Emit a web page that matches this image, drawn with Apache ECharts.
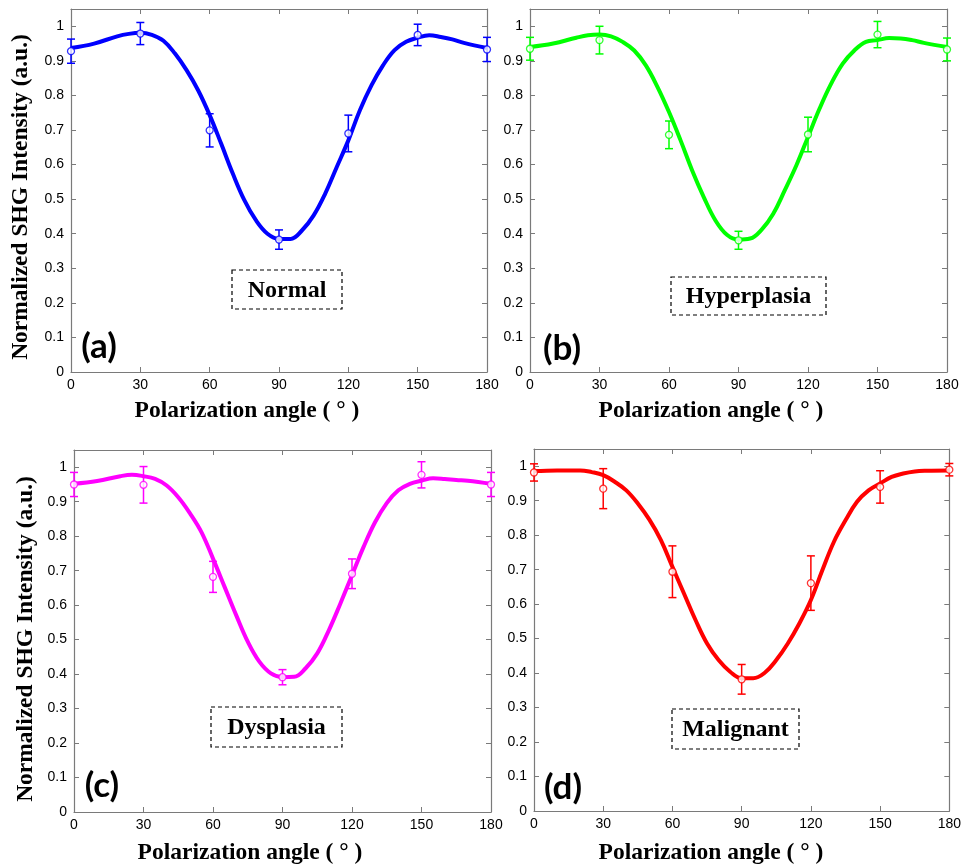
<!DOCTYPE html>
<html>
<head>
<meta charset="utf-8">
<script src="https://cdn.jsdelivr.net/npm/echarts@6/dist/echarts.min.js"></script>
<style>
  html, body { margin: 0; background: #fff; }
  #chart { width: 964px; height: 867px; }
</style>
</head>
<body>
<div id="chart"></div>
<script>
// measured points (mean +/- error bar) at each polarization angle
const angles = [0, 30, 60, 90, 120, 150, 180];

const normalMean = [0.928, 0.979, 0.699, 0.383, 0.690, 0.975, 0.933];
const normalErr = [0.035, 0.032, 0.048, 0.028, 0.053, 0.031, 0.035];
const hyperMean = [0.935, 0.960, 0.686, 0.381, 0.687, 0.976, 0.933];
const hyperErr = [0.033, 0.040, 0.040, 0.026, 0.050, 0.038, 0.033];
const dysMean = [0.950, 0.949, 0.682, 0.391, 0.691, 0.978, 0.950];
const dysErr = [0.035, 0.053, 0.045, 0.022, 0.043, 0.038, 0.035];
const malMean = [0.982, 0.935, 0.694, 0.382, 0.661, 0.940, 0.990];
const malErr = [0.025, 0.058, 0.075, 0.043, 0.079, 0.047, 0.018];

// fitted curves
const fitAngles = [0, 10, 20, 25, 30, 35, 40, 45, 50, 55, 60, 65, 70, 75, 80, 85, 90,
  95, 100, 105, 110, 115, 120, 125, 130, 135, 140, 145, 150, 155, 160, 165, 170, 180];
const normalFit = [0.937, 0.950, 0.971, 0.978, 0.981, 0.975, 0.958, 0.921, 0.873, 0.815, 0.743,
  0.660, 0.574, 0.497, 0.439, 0.400, 0.385, 0.385, 0.410, 0.453, 0.516, 0.593, 0.670, 0.757,
  0.829, 0.887, 0.931, 0.955, 0.967, 0.974, 0.969, 0.962, 0.952, 0.937];
const hyperFit = [0.940, 0.950, 0.967, 0.974, 0.976, 0.971, 0.955, 0.930, 0.887, 0.825, 0.752,
  0.670, 0.583, 0.506, 0.439, 0.397, 0.383, 0.386, 0.412, 0.458, 0.526, 0.598, 0.680, 0.762,
  0.834, 0.892, 0.930, 0.955, 0.960, 0.966, 0.965, 0.960, 0.952, 0.940];
const dysFit = [0.952, 0.960, 0.974, 0.978, 0.974, 0.966, 0.947, 0.913, 0.867, 0.812, 0.735,
  0.653, 0.571, 0.494, 0.436, 0.402, 0.391, 0.392, 0.417, 0.460, 0.527, 0.605, 0.687, 0.769,
  0.841, 0.896, 0.933, 0.952, 0.961, 0.968, 0.966, 0.963, 0.961, 0.952];
const malFit = [0.986, 0.988, 0.988, 0.983, 0.974, 0.955, 0.930, 0.892, 0.845, 0.786, 0.708,
  0.631, 0.554, 0.486, 0.438, 0.404, 0.385, 0.385, 0.401, 0.438, 0.486, 0.544, 0.612, 0.699,
  0.781, 0.843, 0.897, 0.930, 0.950, 0.969, 0.979, 0.985, 0.987, 0.988];

const xTicks = { min: 0, max: 180, interval: 30 };
const yTicks = { min: 0, max: 1.05, interval: 0.1 };

const panels = [
  { mean: normalMean, err: normalErr, fit: normalFit, color: '#0000ff', tag: 'Normal', letter: '(a)' },
  { mean: hyperMean, err: hyperErr, fit: hyperFit, color: '#00ff00', tag: 'Hyperplasia', letter: '(b)' },
  { mean: dysMean, err: dysErr, fit: dysFit, color: '#ff00ff', tag: 'Dysplasia', letter: '(c)' },
  { mean: malMean, err: malErr, fit: malFit, color: '#ff0000', tag: 'Malignant', letter: '(d)' }
];

// layout of the 2x2 figure
const grids = [
  { left: 71, top: 9, width: 416, height: 363 },
  { left: 530, top: 9, width: 417, height: 363 },
  { left: 74, top: 450, width: 417, height: 362 },
  { left: 534, top: 449, width: 416, height: 362 }
];
const boxes = [
  { x: 232, y: 270, w: 110, h: 39 },
  { x: 671, y: 277, w: 155, h: 38 },
  { x: 211, y: 707, w: 131, h: 40 },
  { x: 672, y: 709, w: 127, h: 40 }
];
const letterPos = [[99, 347], [562, 349], [102, 786], [563, 788]];

const AXIS = '#7a7a7a';
const TICKFONT = { color: '#000', fontFamily: 'Liberation Sans, Arial, sans-serif', fontSize: 14 };
const SERIF = 'Liberation Serif, Times New Roman, serif';

function axisCommon(showLabel) {
  return {
    axisLine: { show: true, onZero: false, lineStyle: { color: AXIS, width: 1.2 } },
    axisTick: { show: true, inside: true, length: 5, lineStyle: { color: AXIS } },
    splitLine: { show: false },
    axisLabel: showLabel ? Object.assign({ showMaxLabel: true }, TICKFONT) : { show: false }
  };
}

const xAxis = [], yAxis = [], series = [];
grids.forEach((g, i) => {
  xAxis.push(Object.assign({ type: 'value', gridIndex: i, position: 'bottom' }, xTicks, axisCommon(true),
    { axisLabel: Object.assign({ margin: 6 }, TICKFONT) }));
  xAxis.push(Object.assign({ type: 'value', gridIndex: i, position: 'top' }, xTicks, axisCommon(false)));
  yAxis.push(Object.assign({ type: 'value', gridIndex: i, position: 'left' }, yTicks, axisCommon(true),
    { axisLabel: Object.assign({ margin: 7, showMaxLabel: false }, TICKFONT) }));
  yAxis.push(Object.assign({ type: 'value', gridIndex: i, position: 'right' }, yTicks, axisCommon(false)));
});

function renderErr(params, api) {
  const x = api.value(0), m = api.value(1), e = api.value(2);
  const lo = api.coord([x, m - e]);
  const hi = api.coord([x, m + e]);
  const w = 4;
  const style = { stroke: api.visual('color'), lineWidth: 1.5, fill: null };
  return {
    type: 'group',
    children: [
      { type: 'line', shape: { x1: lo[0], y1: lo[1], x2: hi[0], y2: hi[1] }, style },
      { type: 'line', shape: { x1: lo[0] - w, y1: lo[1], x2: lo[0] + w, y2: lo[1] }, style },
      { type: 'line', shape: { x1: hi[0] - w, y1: hi[1], x2: hi[0] + w, y2: hi[1] }, style }
    ]
  };
}

panels.forEach((p, i) => {
  const xi = i * 2, yi = i * 2;
  series.push({
    type: 'line', xAxisIndex: xi, yAxisIndex: yi, smooth: 0.4, showSymbol: false, silent: true,
    lineStyle: { color: p.color, width: 4 },
    data: fitAngles.map((a, k) => [a, p.fit[k]]),
    z: 3
  });
  series.push({
    type: 'custom', xAxisIndex: xi, yAxisIndex: yi, renderItem: renderErr, silent: true,
    itemStyle: { color: p.color },
    data: angles.map((a, k) => [a, p.mean[k], p.err[k]]),
    z: 4
  });
  series.push({
    type: 'scatter', xAxisIndex: xi, yAxisIndex: yi, symbol: 'circle', symbolSize: 7, silent: true,
    itemStyle: { color: '#fff', borderColor: p.color, borderWidth: 1.3 },
    data: angles.map((a, k) => [a, p.mean[k]]),
    z: 5
  });
});

const graphic = [];
panels.forEach((p, i) => {
  const b = boxes[i];
  graphic.push({
    type: 'rect', shape: { x: b.x, y: b.y, width: b.w, height: b.h },
    style: { fill: '#fff', stroke: '#000', lineWidth: 1.2, lineDash: [4, 3] }
  });
  graphic.push({
    type: 'text', x: b.x + b.w / 2, y: b.y + b.h / 2 + 1,
    style: { text: p.tag, fontFamily: SERIF, fontWeight: 'bold', fontSize: 24, fill: '#000',
      align: 'center', verticalAlign: 'middle' }
  });
  graphic.push({
    type: 'text', x: letterPos[i][0], y: letterPos[i][1],
    style: { text: p.letter, fontFamily: 'Lato, Open Sans, sans-serif', fontWeight: 'bold', fontSize: 35,
      fill: '#000', align: 'center', verticalAlign: 'middle' }
  });
});

// axis titles
const yTitle = 'Normalized SHG Intensity (a.u.)';
const xTitle = 'Polarization angle ( \u00b0 )';
[[21, 197], [26, 639]].forEach(pos => {
  graphic.push({
    type: 'text', x: pos[0], y: pos[1], rotation: Math.PI / 2,
    style: { text: yTitle, fontFamily: SERIF, fontWeight: 'bold', fontSize: 23.5, fill: '#000',
      align: 'center', verticalAlign: 'middle' }
  });
});
[[247, 411], [711, 411], [250, 853], [711, 853]].forEach(pos => {
  graphic.push({
    type: 'text', x: pos[0], y: pos[1],
    style: { text: xTitle, fontFamily: SERIF, fontWeight: 'bold', fontSize: 23.5, fill: '#000',
      align: 'center', verticalAlign: 'middle' }
  });
});

const chart = echarts.init(document.getElementById('chart'));
chart.setOption({
  animation: false,
  backgroundColor: '#fff',
  grid: grids.map(g => Object.assign({ show: false }, g)),
  xAxis,
  yAxis,
  series,
  graphic
});
</script>
</body>
</html>
